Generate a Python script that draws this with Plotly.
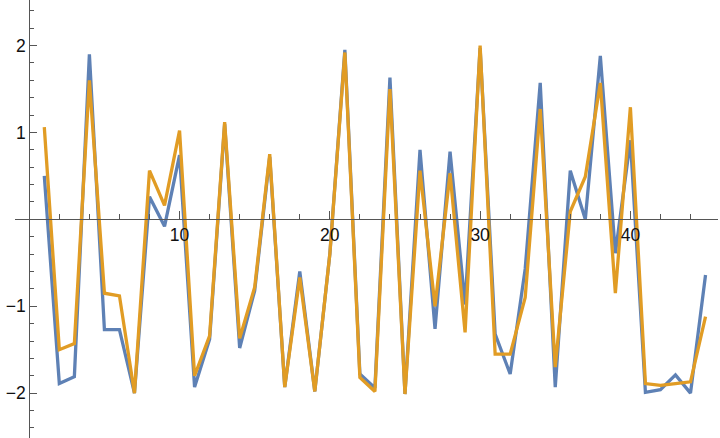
import plotly.graph_objects as go

# x positions 1..45
steps = list(range(1, 46))

series_a = [0.50, -1.89, -1.81, 1.90, -1.27, -1.27, -2.00, 0.26, -0.08, 0.74,
            -1.93, -1.38, 1.10, -1.48, -0.82, 0.72, -1.93, -0.60, -1.98, -0.40,
            1.95, -1.78, -1.94, 1.63, -2.01, 0.80, -1.26, 0.78, -0.98, 1.97,
            -1.32, -1.78, -0.57, 1.57, -1.93, 0.56, 0.00, 1.88, -0.39, 0.91,
            -1.99, -1.96, -1.79, -2.00, -0.64]

series_b = [1.06, -1.50, -1.43, 1.60, -0.85, -0.88, -2.00, 0.56, 0.16, 1.02,
            -1.80, -1.34, 1.12, -1.37, -0.78, 0.75, -1.93, -0.67, -1.98, -0.40,
            1.92, -1.82, -1.98, 1.50, -2.01, 0.56, -1.00, 0.53, -1.30, 2.00,
            -1.55, -1.55, -0.90, 1.27, -1.70, 0.09, 0.49, 1.57, -0.85, 1.29,
            -1.89, -1.91, -1.89, -1.87, -1.12]

x_ticks = [10, 20, 30, 40]
y_ticks = [-2, -1, 1, 2]

x_range = [-0.95, 45.83]
y_range = [-2.516, 2.524]

axis_color = '#555555'

fig = go.Figure()

fig.add_trace(go.Scatter(
    x=steps, y=series_a, mode='lines',
    line=dict(color='#5E81B5', width=3.3),
    showlegend=False
))

fig.add_trace(go.Scatter(
    x=steps, y=series_b, mode='lines',
    line=dict(color='#E19C24', width=3.3),
    showlegend=False
))

# axes cross at the origin, like the Mathematica default
x_pos = (0 - y_range[0]) / (y_range[1] - y_range[0])
y_pos = (0 - x_range[0]) / (x_range[1] - x_range[0])

fig.update_layout(
    width=720, height=438,
    margin=dict(l=15, r=2, t=0, b=0),
    paper_bgcolor='white',
    plot_bgcolor='white',
    font=dict(family='Liberation Sans, Arial, sans-serif', size=17.5, color='#111111'),
    xaxis=dict(
        range=x_range, anchor='free', position=x_pos, automargin=False,
        showgrid=False, zeroline=False,
        showline=True, linecolor=axis_color, linewidth=1,
        tickvals=x_ticks, ticks='inside', ticklen=8, tickcolor=axis_color,
        minor=dict(dtick=2, tick0=0, ticks='inside', ticklen=5, tickcolor=axis_color),
    ),
    yaxis=dict(
        range=y_range, anchor='free', position=y_pos, automargin=False,
        showgrid=False, zeroline=False,
        showline=True, linecolor=axis_color, linewidth=1,
        tickvals=y_ticks, ticks='inside', ticklen=7, tickcolor=axis_color,
        minor=dict(dtick=0.2, tick0=0, ticks='inside', ticklen=4, tickcolor=axis_color),
    ),
)

# drop the default page margin so the figure sits at the window corner
fig.write_html("out.html", config={'displayModeBar': False},
               post_script="document.body.style.margin='0';")
